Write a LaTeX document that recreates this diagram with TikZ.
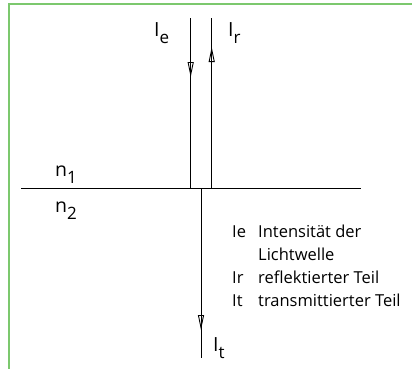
\documentclass[tikz,border=0pt]{standalone}
\usepackage{fontspec}
\setmainfont{Open Sans}
\usetikzlibrary{arrows.meta,decorations.markings}
\definecolor{framegreen}{HTML}{7CC86E}
\newcommand{\sublab}[2]{#1\raisebox{-7pt}{\fontsize{17}{17}\selectfont #2}}

\begin{document}
\begin{tikzpicture}[x=1pt, y=-1pt,
  ray/.style={line width=0.9pt, black},
  tipmark/.style={postaction={decorate}, decoration={markings,
    mark=at position #1 with {\arrow{Triangle[open, length=15pt, width=6pt]}}}},
  lab/.style={inner sep=0pt, font=\fontsize{19.5}{19.5}\selectfont, anchor=base west},
  legend/.style={inner sep=0pt, font=\fontsize{16.5}{16.5}\selectfont, anchor=base west}]
  \useasboundingbox (0,0) rectangle (412,369);
  \draw[framegreen, line width=2pt] (412,4.5) -- (9,4.5) -- (9,369);

  % boundary and rays
  \coordinate (grenzeL) at (21,188.3);
  \coordinate (grenzeR) at (361,188.3);
  \coordinate (einOben) at (190.7,18.5);
  \coordinate (einUnten) at (190.7,188.3);
  \coordinate (refOben) at (211.7,18.5);
  \coordinate (refUnten) at (211.7,188.3);
  \coordinate (transOben) at (201,188.3);
  \coordinate (transUnten) at (201,358);
  \draw[ray] (grenzeL) -- (grenzeR);
  \draw[ray, tipmark=0.345] (einOben) -- (einUnten);
  \draw[ray, tipmark=0.832] (refUnten) -- (refOben);
  \draw[ray, tipmark=0.835] (transOben) -- (transUnten);

  % labels
  \node[lab] (Ie) at (154,37) {\sublab{I}{e}};
  \node[lab] (Ir) at (228,37) {\sublab{I}{r}};
  \node[lab] (It) at (213,351) {\sublab{I}{t}};
  \node[lab] (n1) at (55,176) {\sublab{n}{1}};
  \node[lab] (n2) at (55,212) {\sublab{n}{2}};

  % legend
  \node[legend] (kIe) at (232,237.5) {Ie};
  \node[legend] (tIe) at (258,237.5) {Intensität der};
  \node[legend] (tIe2) at (258,260) {Lichtwelle};
  \node[legend] (kIr) at (232,283.5) {Ir};
  \node[legend] (tIr) at (258,283.5) {reflektierter Teil};
  \node[legend] (kIt) at (232,306) {It};
  \node[legend] (tIt) at (258,306) {transmittierter Teil};
\end{tikzpicture}
\end{document}
